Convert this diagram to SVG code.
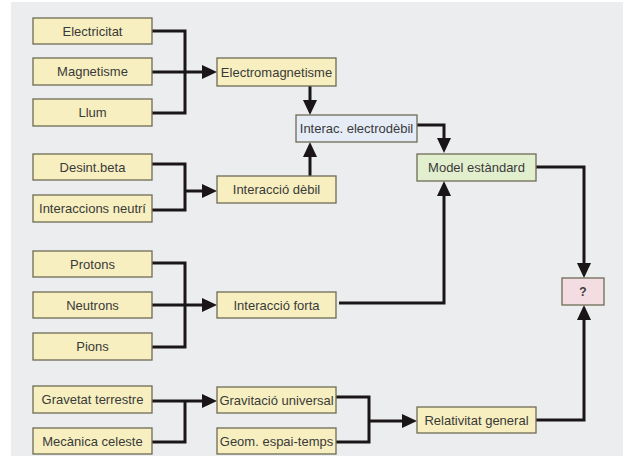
<svg xmlns="http://www.w3.org/2000/svg" width="623" height="465" viewBox="0 0 623 465">
<style>
.box rect{fill:#F7EFBF;stroke:#6F6B55;stroke-width:1.3}
.blue rect{fill:#E5ECF5}
.green rect{fill:#E2EFCE}
.pink rect{fill:#F3DCE2}
text{font-family:"Liberation Sans",Arial,sans-serif;font-size:13px;fill:#3A3A3A;text-anchor:middle}
.q text{font-weight:bold;font-size:12px}
.conn path{fill:none;stroke:#1A1617;stroke-width:3}
</style>
<defs>
<marker id="ah" markerUnits="userSpaceOnUse" viewBox="0 0 15 14" markerWidth="15" markerHeight="14" refX="5" refY="7" orient="auto">
<path d="M0,0 L15,7 L0,14 z" fill="#1A1617"/>
</marker>
</defs>
<rect x="11" y="2" width="612" height="454" fill="#ECEDEF"/>
<g class="conn">
<path d="M152,31 H185 V113 H152"/>
<path d="M152,72 H207" marker-end="url(#ah)"/>
<path d="M152,164 H185 V210 H152"/>
<path d="M185,191 H207" marker-end="url(#ah)"/>
<path d="M310,86 V105" marker-end="url(#ah)"/>
<path d="M310,176 V152" marker-end="url(#ah)"/>
<path d="M417,125 H444 V143" marker-end="url(#ah)"/>
<path d="M536,167 H584 V268" marker-end="url(#ah)"/>
<path d="M339,303 H444 V191" marker-end="url(#ah)"/>
<path d="M152,263 H185 V347 H152"/>
<path d="M152,305 H207" marker-end="url(#ah)"/>
<path d="M152,401 H207" marker-end="url(#ah)"/>
<path d="M185,401 V442 H152"/>
<path d="M336,397 H369 V442 H336"/>
<path d="M369,421 H407" marker-end="url(#ah)"/>
<path d="M536,420 H584 V315" marker-end="url(#ah)"/>
</g>
<g id="electricitat" class="box"><rect x="33" y="18" width="119" height="26"/><text x="92.5" y="35.5">Electricitat</text></g>
<g id="magnetisme" class="box"><rect x="33" y="58" width="119" height="27"/><text x="92.5" y="76">Magnetisme</text></g>
<g id="llum" class="box"><rect x="33" y="99" width="119" height="27"/><text x="92.5" y="117">Llum</text></g>
<g id="desint" class="box"><rect x="33" y="154" width="119" height="26"/><text x="92.5" y="171.5">Desint.beta</text></g>
<g id="neutri" class="box"><rect x="33" y="195" width="119" height="27"/><text x="92.5" y="213">Interaccions neutrí</text></g>
<g id="electromagnetisme" class="box"><rect x="217" y="58" width="119" height="28"/><text x="276.5" y="76.5">Electromagnetisme</text></g>
<g id="debil" class="box"><rect x="217" y="176" width="119" height="27"/><text x="276.5" y="194">Interacció dèbil</text></g>
<g id="electrodebil" class="box blue"><rect x="296" y="115" width="121" height="27"/><text x="356.5" y="133">Interac. electrodèbil</text></g>
<g id="model" class="box green"><rect x="417" y="154" width="119" height="27"/><text x="476.5" y="172">Model estàndard</text></g>
<g id="unknown" class="box pink q"><rect x="562" y="278" width="42" height="27"/><text x="583" y="296">?</text></g>
<g id="protons" class="box"><rect x="33" y="251" width="119" height="26"/><text x="92.5" y="268.5">Protons</text></g>
<g id="neutrons" class="box"><rect x="33" y="292" width="119" height="26"/><text x="92.5" y="309.5">Neutrons</text></g>
<g id="pions" class="box"><rect x="33" y="333" width="119" height="27"/><text x="92.5" y="351">Pions</text></g>
<g id="forta" class="box"><rect x="217" y="292" width="119" height="26"/><text x="276.5" y="309.5">Interacció forta</text></g>
<g id="gravetat" class="box"><rect x="33" y="386" width="119" height="27"/><text x="92.5" y="404">Gravetat terrestre</text></g>
<g id="mecanica" class="box"><rect x="33" y="428" width="119" height="26"/><text x="92.5" y="445.5">Mecànica celeste</text></g>
<g id="gravitacio" class="box"><rect x="217" y="387" width="119" height="26"/><text x="276.5" y="404.5">Gravitació universal</text></g>
<g id="geom" class="box"><rect x="217" y="428" width="119" height="26"/><text x="276.5" y="445.5">Geom. espai-temps</text></g>
<g id="relativitat" class="box"><rect x="417" y="407" width="119" height="26"/><text x="476.5" y="424.5">Relativitat general</text></g>
</svg>
